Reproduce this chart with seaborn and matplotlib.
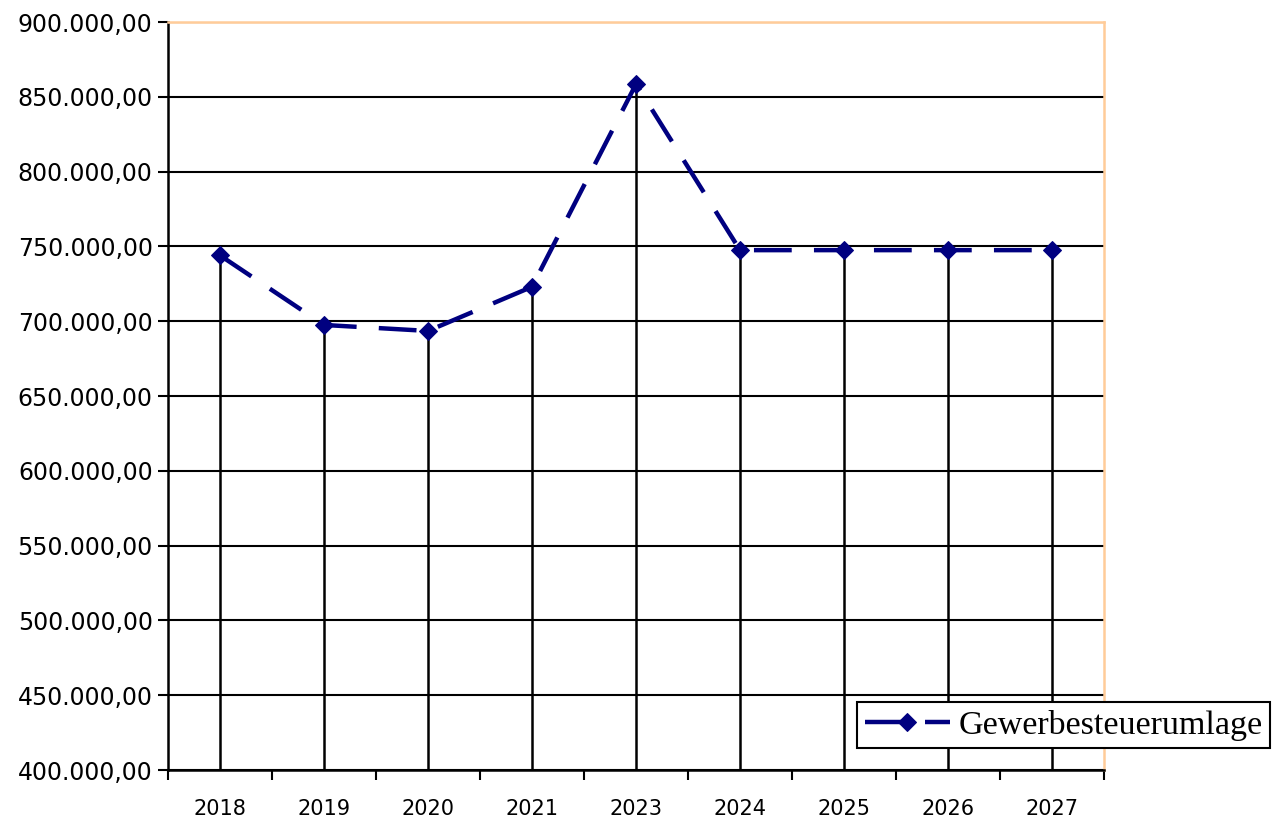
import matplotlib
matplotlib.use('Agg')
import matplotlib.pyplot as plt
from matplotlib.ticker import FuncFormatter
import seaborn as sns
import pandas as pd

years = ['2018', '2019', '2020', '2021', '2023', '2024', '2025', '2026', '2027']
values = [744000, 697500, 693500, 723000, 858500, 747500, 747500, 747500, 747500]
series_name = 'Gewerbesteuerumlage'

LINE_COLOR = '#000080'


def de_format(v, pos):
    s = '{:,.2f}'.format(v)
    return s.replace(',', 'X').replace('.', ',').replace('X', '.')


def main():
    sns.set_style('white')
    plt.rcParams['font.family'] = ['DejaVu Sans']

    df = pd.DataFrame({'pos': range(len(years)), 'value': values, 'series': series_name})

    fig = plt.figure(figsize=(12.8, 8.24), dpi=100)
    ax = fig.add_axes([0.13125, 0.0655, 0.73125, 0.9078])

    # horizontal grid
    ax.set_ylim(400000, 900000)
    ax.set_yticks(range(400000, 900001, 50000))
    ax.yaxis.grid(True, color='black', linewidth=1.5)
    ax.set_axisbelow(True)

    # drop lines
    ax.vlines(df['pos'], 400000, df['value'], colors='black', linewidth=1.8, zorder=2)

    sns.lineplot(data=df, x='pos', y='value', hue='series', palette=[LINE_COLOR],
                 marker='D', markersize=9, linewidth=3.2, dashes=False,
                 linestyle=(0, (8.5, 5)), markeredgecolor=LINE_COLOR, ax=ax, zorder=3)

    ax.set_xlim(-0.5, len(years) - 0.5)
    ax.set_xticks([i - 0.5 for i in range(len(years) + 1)])
    ax.set_xticklabels([])
    ax.set_xticks(range(len(years)), minor=True)
    ax.set_xticklabels(years, minor=True, fontsize=15, color='black')
    ax.tick_params(axis='x', which='major', direction='out', length=7, width=1.5, color='black', bottom=True)
    ax.tick_params(axis='x', which='minor', length=0, pad=21)
    ax.tick_params(axis='y', direction='out', length=7, width=1.5, color='black', left=True,
                   labelsize=17, labelcolor='black', pad=4)
    ax.yaxis.set_major_formatter(FuncFormatter(de_format))
    ax.set_xlabel('')
    ax.set_ylabel('')

    for side in ['left', 'bottom']:
        ax.spines[side].set_color('black')
        ax.spines[side].set_linewidth(1.8)
    for side in ['top', 'right']:
        ax.spines[side].set_color('#FFCC99')
        ax.spines[side].set_linewidth(1.8)

    handles, labels = ax.get_legend_handles_labels()
    leg = ax.legend(handles, labels, loc='lower right', bbox_to_anchor=(1.1774, 0.0294),
                    borderaxespad=0, frameon=True, fancybox=False, framealpha=1,
                    edgecolor='black', borderpad=0.22, handlelength=2.5, handletextpad=0.25,
                    labelcolor='black',
                    prop={'family': 'Liberation Serif', 'size': 24.5})
    leg.get_frame().set_linewidth(1.5)

    fig.savefig('out.png', dpi=100)


if __name__ == '__main__':
    main()
